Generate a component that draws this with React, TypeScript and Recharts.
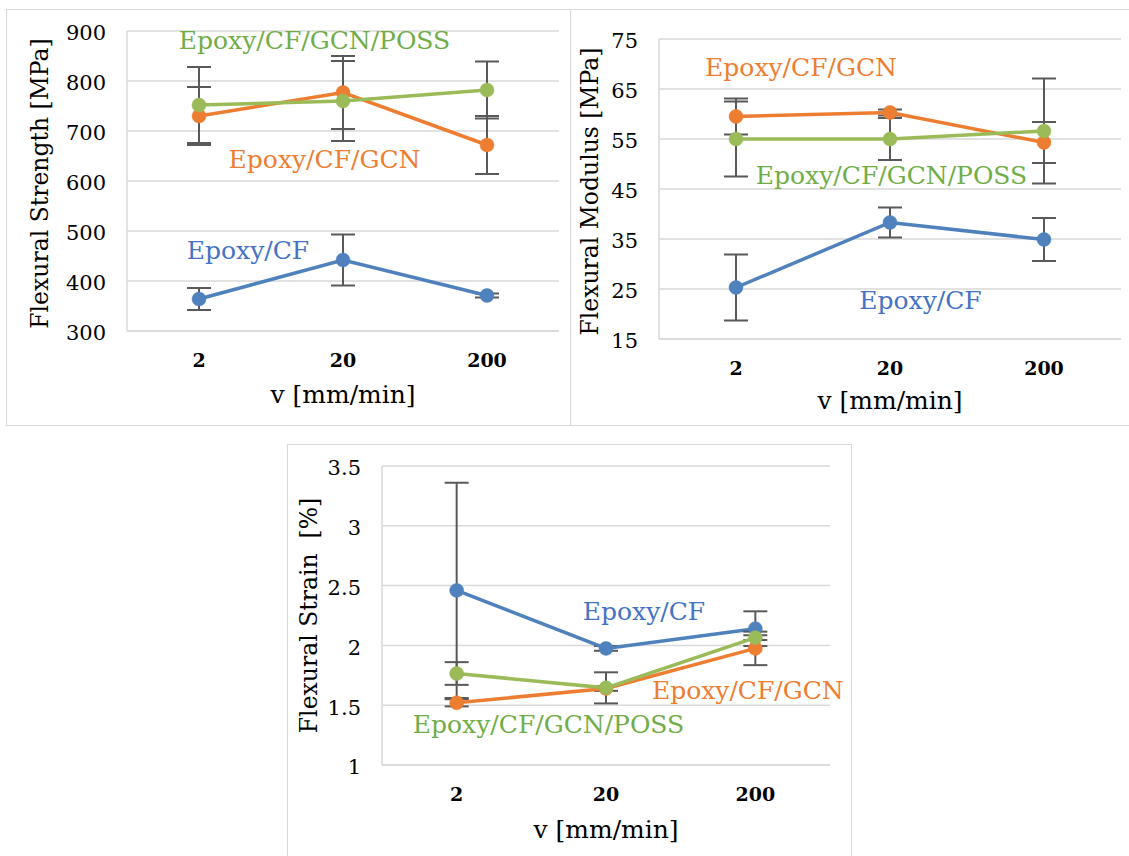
import { LineChart, Line, XAxis, YAxis, CartesianGrid, ErrorBar, ReferenceDot } from 'recharts';

const FONT = '"DejaVu Serif", Georgia, serif';
const BLUE = '#4F81BD';
const ORANGE = '#ED7D31';
const GREEN = '#9BBB59';
const BLUE_TXT = '#4472C4';
const ORANGE_TXT = '#ED7D31';
const GREEN_TXT = '#70AD47';
const BAR = '#595959';
const GRID = '#d9d9d9';

// loading speed categories
const speeds = ['2', '20', '200'];

// flexural strength [MPa]
const strengthCF = [364, 442, 371];
const strengthCFErr = [22, 51, 4];
const strengthGCN = [730, 777, 672];
const strengthGCNErr = [58, 73, 58];
const strengthPOSS = [752, 760, 782];
const strengthPOSSErr = [76, 80, 57];
const strengthTicks = [300, 400, 500, 600, 700, 800, 900];

// flexural modulus [MPa]
const modulusCF = [25.3, 38.3, 34.9];
const modulusCFErr = [6.6, 3, 4.3];
const modulusGCN = [59.5, 60.3, 54.3];
const modulusGCNErr = [3.6, 0.6, 4.1];
const modulusPOSS = [55, 55, 56.6];
const modulusPOSSErr = [7.5, 4.2, 10.5];
const modulusTicks = [15, 25, 35, 45, 55, 65, 75];

// flexural strain [%]
const strainCF = [2.46, 1.975, 2.14];
const strainCFErr = [0.9, 0.02, 0.145];
const strainGCN = [1.52, 1.64, 1.975];
const strainGCNErr = [0.03, 0.02, 0.14];
const strainPOSS = [1.765, 1.645, 2.065];
const strainPOSSErr = [0.095, 0.13, 0.02];
const strainTicks = [1, 1.5, 2, 2.5, 3, 3.5];

type Tag = { text: string; color: string; x: string; y: number; dx: number };

const strengthTags: Tag[] = [
    { text: 'Epoxy/CF/GCN/POSS', color: GREEN_TXT, x: '20', y: 864, dx: -28.5 },
    { text: 'Epoxy/CF/GCN', color: ORANGE_TXT, x: '20', y: 626, dx: -18.5 },
    { text: 'Epoxy/CF', color: BLUE_TXT, x: '2', y: 444, dx: 49 },
];
const modulusTags: Tag[] = [
    { text: 'Epoxy/CF/GCN', color: ORANGE_TXT, x: '2', y: 67.6, dx: 65 },
    { text: 'Epoxy/CF/GCN/POSS', color: GREEN_TXT, x: '20', y: 46, dx: 1.5 },
    { text: 'Epoxy/CF', color: BLUE_TXT, x: '20', y: 21, dx: 30.5 },
];
const strainTags: Tag[] = [
    { text: 'Epoxy/CF', color: BLUE_TXT, x: '20', y: 2.21, dx: 38 },
    { text: 'Epoxy/CF/GCN', color: ORANGE_TXT, x: '200', y: 1.549, dx: -7.5 },
    { text: 'Epoxy/CF/GCN/POSS', color: GREEN_TXT, x: '20', y: 1.265, dx: -57.5 },
];

const toRows = (cf: number[], cfErr: number[], gcn: number[], gcnErr: number[], poss: number[], possErr: number[]) =>
    speeds.map((v, i) => ({ v, cf: cf[i], cfErr: cfErr[i], gcn: gcn[i], gcnErr: gcnErr[i], poss: poss[i], possErr: possErr[i] }));

interface PanelProps {
    rows: any[];
    ticks: number[];
    yTitle: string;
    tags: Tag[];
    left: number;
    top: number;
    width: number;
    height: number;
    margin: { top: number; right: number; bottom: number; left: number };
    yAxisWidth: number;
    xAxisHeight: number;
    yTitleX: number;
    yTitleDy: number;
    xTitleY: number;
}

const tagContent = (t: Tag) => (p: any) => {
    const vb = p.viewBox || { x: 0, y: 0, width: 0, height: 0 };
    const x = vb.x + vb.width / 2 + t.dx;
    const y = vb.y + vb.height / 2;
    return (
        <text x={x} y={y} textAnchor="middle" fill={t.color} fontSize={25} fontFamily={FONT}>
            {t.text}
        </text>
    );
};

const series = [
    { key: 'cf', err: 'cfErr', color: BLUE },
    { key: 'gcn', err: 'gcnErr', color: ORANGE },
    { key: 'poss', err: 'possErr', color: GREEN },
];

const Panel = (p: PanelProps) => {
    const plotW = p.width - p.margin.left - p.margin.right - p.yAxisWidth;
    const plotTop = p.margin.top;
    const plotBottom = p.height - p.margin.bottom - p.xAxisHeight;
    const pad = plotW / 6;
    const yCx = p.margin.left + p.yTitleX;
    const yCy = (plotTop + plotBottom) / 2 + p.yTitleDy;
    const xCx = p.margin.left + p.yAxisWidth + plotW / 2;
    return (
        <div style={{ position: 'absolute', left: p.left, top: p.top }}>
            <LineChart width={p.width} height={p.height} data={p.rows} margin={p.margin}>
                <CartesianGrid vertical={false} stroke={GRID} strokeWidth={1.5} />
                <XAxis
                    dataKey="v"
                    height={p.xAxisHeight}
                    padding={{ left: pad, right: pad }}
                    axisLine={{ stroke: GRID, strokeWidth: 1.5 }}
                    tickLine={false}
                    tickSize={0}
                    tickMargin={23}
                    tick={{ fill: '#000', fontSize: 19, fontWeight: 'bold', fontFamily: FONT }}
                    label={{
                        content: () => (
                            <text x={xCx} y={p.xTitleY} textAnchor="middle" fill="#000" fontSize={25} fontFamily={FONT}>
                                v [mm/min]
                            </text>
                        ),
                    }}
                />
                <YAxis
                    width={p.yAxisWidth}
                    domain={[p.ticks[0], p.ticks[p.ticks.length - 1]]}
                    ticks={p.ticks}
                    interval={0}
                    allowDataOverflow
                    axisLine={{ stroke: GRID, strokeWidth: 1.5 }}
                    tickLine={false}
                    tickSize={0}
                    tickMargin={21}
                    tick={{ fill: '#000', fontSize: 21, fontFamily: FONT, dy: 2 }}
                    label={{
                        content: () => (
                            <text
                                x={yCx}
                                y={yCy}
                                textAnchor="middle"
                                dominantBaseline="central"
                                transform={`rotate(-90 ${yCx} ${yCy})`}
                                fill="#000"
                                fontSize={23.5}
                                fontFamily={FONT}
                                style={{ whiteSpace: 'pre' }}
                            >
                                {p.yTitle}
                            </text>
                        ),
                    }}
                />
                {series.map((s) => (
                    <Line
                        key={s.key}
                        type="linear"
                        dataKey={s.key}
                        stroke={s.color}
                        strokeWidth={3.5}
                        dot={{ r: 7, fill: s.color, stroke: s.color, strokeWidth: 0.5 }}
                        activeDot={false}
                        isAnimationActive={false}
                    >
                        <ErrorBar dataKey={s.err} direction="y" width={12} stroke={BAR} strokeWidth={2} isAnimationActive={false} />
                    </Line>
                ))}
                {p.tags.map((t) => (
                    <ReferenceDot key={t.text} x={t.x} y={t.y} r={0} fill="none" stroke="none" label={tagContent(t)} />
                ))}
            </LineChart>
        </div>
    );
};

const Frame = ({ left, top, width, height }: { left: number; top: number; width: number; height: number }) => (
    <div
        style={{
            position: 'absolute',
            left,
            top,
            width,
            height,
            boxSizing: 'border-box',
            border: `1.5px solid ${GRID}`,
        }}
    />
);

export default function App() {
    return (
        <div style={{ position: 'absolute', left: 0, top: 0, width: 1129, height: 856, overflow: 'hidden', background: '#fff' }}>
            <Frame left={6} top={9} width={565} height={417} />
            <Frame left={570} top={9} width={570} height={417} />
            <Frame left={287} top={444} width={565} height={430} />
            <Panel
                rows={toRows(strengthCF, strengthCFErr, strengthGCN, strengthGCNErr, strengthPOSS, strengthPOSSErr)}
                ticks={strengthTicks}
                yTitle="Flexural Strength [MPa]"
                tags={strengthTags}
                left={6}
                top={10}
                width={564}
                height={415}
                margin={{ top: 21, right: 11, bottom: 0, left: 0 }}
                yAxisWidth={121}
                xAxisHeight={94}
                yTitleX={34}
                yTitleDy={2.5}
                xTitleY={393}
            />
            <Panel
                rows={toRows(modulusCF, modulusCFErr, modulusGCN, modulusGCNErr, modulusPOSS, modulusPOSSErr)}
                ticks={modulusTicks}
                yTitle="Flexural Modulus [MPa]"
                tags={modulusTags}
                left={570}
                top={10}
                width={559}
                height={415}
                margin={{ top: 29, right: 8, bottom: 0, left: 0 }}
                yAxisWidth={89}
                xAxisHeight={86}
                yTitleX={20}
                yTitleDy={2.5}
                xTitleY={399}
            />
            <Panel
                rows={toRows(strainCF, strainCFErr, strainGCN, strainGCNErr, strainPOSS, strainPOSSErr)}
                ticks={strainTicks}
                yTitle={'Flexural Strain  [%]'}
                tags={strainTags}
                left={288}
                top={444}
                width={564}
                height={412}
                margin={{ top: 22, right: 22, bottom: 0, left: 0 }}
                yAxisWidth={94}
                xAxisHeight={91}
                yTitleX={20.6}
                yTitleDy={0}
                xTitleY={394}
            />
        </div>
    );
}
